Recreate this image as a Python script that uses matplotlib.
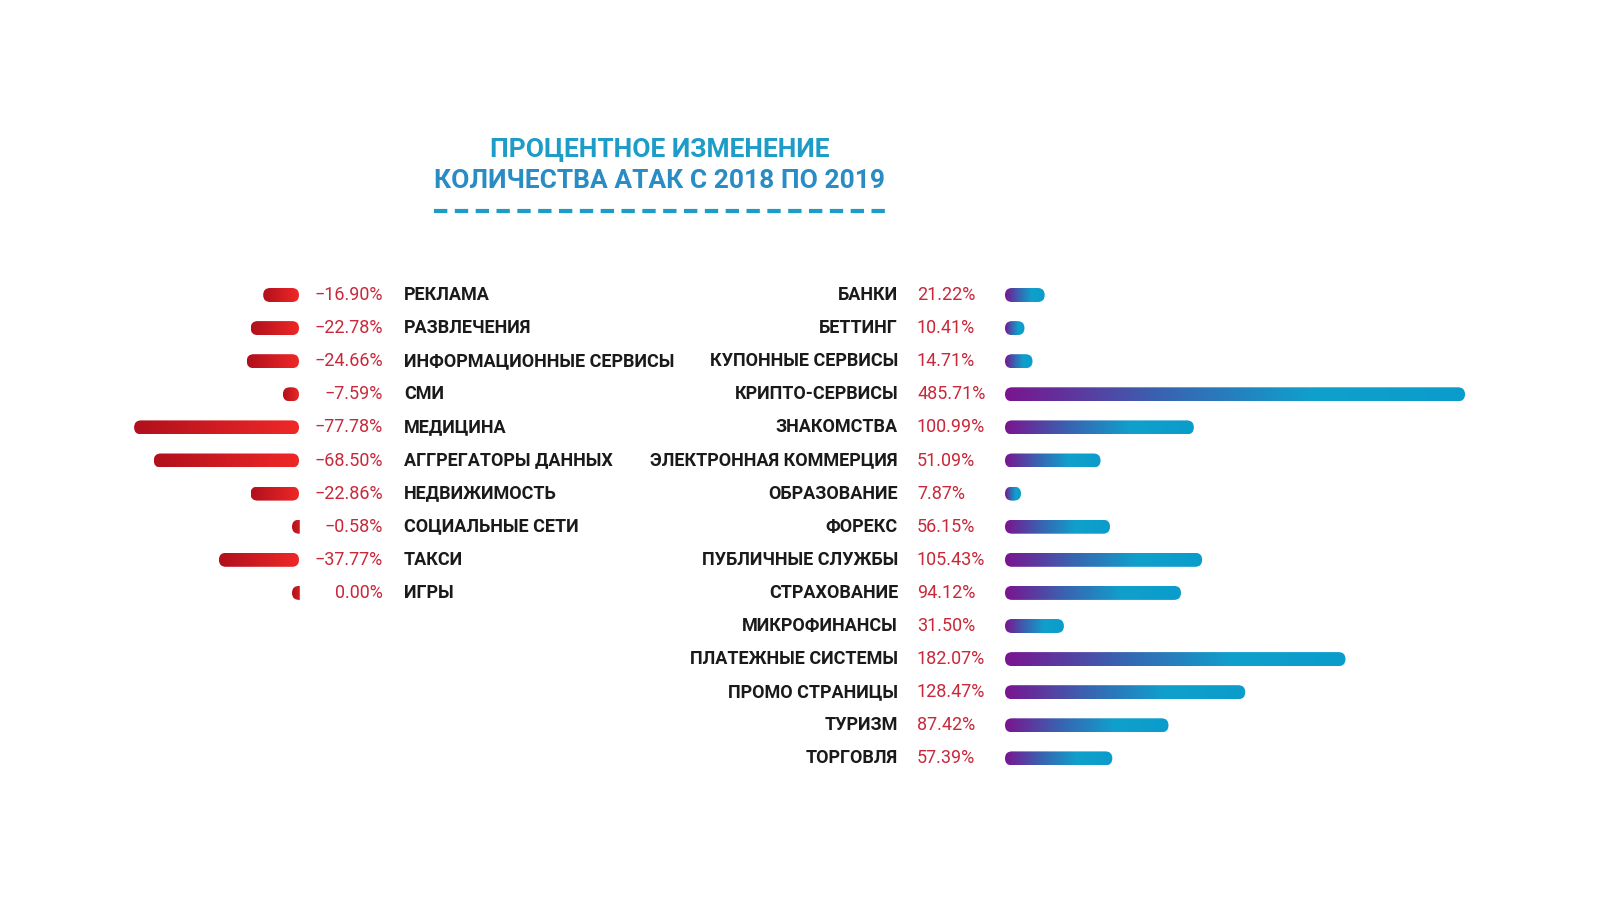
import numpy as np
import matplotlib
matplotlib.use("Agg")
import matplotlib.pyplot as plt
from matplotlib.patches import FancyBboxPatch
from matplotlib.colors import LinearSegmentedColormap

# data
left_cats = ["РЕКЛАМА", "РАЗВЛЕЧЕНИЯ", "ИНФОРМАЦИОННЫЕ СЕРВИСЫ", "СМИ", "МЕДИЦИНА",
             "АГГРЕГАТОРЫ ДАННЫХ", "НЕДВИЖИМОСТЬ", "СОЦИАЛЬНЫЕ СЕТИ", "ТАКСИ", "ИГРЫ"]
left_vals = [-16.90, -22.78, -24.66, -7.59, -77.78, -68.50, -22.86, -0.58, -37.77, 0.00]

right_cats = ["БАНКИ", "БЕТТИНГ", "КУПОННЫЕ СЕРВИСЫ", "КРИПТО-СЕРВИСЫ", "ЗНАКОМСТВА",
              "ЭЛЕКТРОННАЯ КОММЕРЦИЯ", "ОБРАЗОВАНИЕ", "ФОРЕКС", "ПУБЛИЧНЫЕ СЛУЖБЫ",
              "СТРАХОВАНИЕ", "МИКРОФИНАНСЫ", "ПЛАТЕЖНЫЕ СИСТЕМЫ", "ПРОМО СТРАНИЦЫ",
              "ТУРИЗМ", "ТОРГОВЛЯ"]
right_vals = [21.22, 10.41, 14.71, 485.71, 100.99, 51.09, 7.87, 56.15, 105.43,
              94.12, 31.50, 182.07, 128.47, 87.42, 57.39]

fig = plt.figure(figsize=(16, 9.09), dpi=100)
ax = fig.add_axes([0, 0, 1, 1])
ax.set_xlim(0, 1600)
ax.set_ylim(909, 0)
ax.axis("off")

red_cmap = LinearSegmentedColormap.from_list("r", ["#b0101c", "#f02828"])
blue_cmap = LinearSegmentedColormap.from_list("b", ["#7a1590", "#3a62b0", "#10a0cc", "#0a9ccb"])
grad = np.linspace(0, 1, 256).reshape(1, -1)

y0, dy, h = 295, 33.1, 14
pct_color = "#c8283a"
cat_font = dict(fontfamily="Roboto", fontweight="bold", fontsize=13, color="#1a1a1a", va="center")
pct_font = dict(fontfamily="Roboto", fontsize=13, color=pct_color, va="center")


def gbar(x0, x1, y, cmap, clip=None):
    patch = FancyBboxPatch((x0, y - h / 2), x1 - x0, h,
                           boxstyle="round,pad=0,rounding_size=7",
                           facecolor="none", edgecolor="none")
    ax.add_patch(patch)
    im = ax.imshow(grad, cmap=cmap, extent=(x0, x1, y + h / 2, y - h / 2),
                   aspect="auto", interpolation="bicubic")
    im.set_clip_path(patch)
    if clip is not None:
        ax.add_patch(clip)
        clip.set_visible(False)


# left side
for i, (c, v) in enumerate(zip(left_cats, left_vals)):
    y = y0 + i * dy
    L = abs(v) * 2.12
    x0 = 299 - max(L, 7)
    x1 = max(299, x0 + 14)
    gbar(x0, x1, y, red_cmap)
    ax.text(383, y, f"{v:.2f}%".replace("-", "\u2212"), ha="right", **pct_font)
    ax.text(404, y, c, ha="left", **cat_font)
# cover part of tiny bars right of anchor
ax.fill_between([299.5, 312], 280, 620, color="white", zorder=5)

# right side
for i, (c, v) in enumerate(zip(right_cats, right_vals)):
    y = y0 + i * dy
    L = max(min(v, 246) * 1.87, 16)
    gbar(1005, 1005 + L, y, blue_cmap)
    ax.text(898, y, c, ha="right", **cat_font)
    ax.text(917, y, f"{v:.2f}%", ha="left", **pct_font)

ax.text(660, 150, "ПРОЦЕНТНОЕ ИЗМЕНЕНИЕ", ha="center", va="center",
        fontfamily="Roboto", fontweight="bold", fontsize=19, color="#1d9cc8")
ax.text(660, 181, "КОЛИЧЕСТВА АТАК С 2018 ПО 2019", ha="center", va="center",
        fontfamily="Roboto", fontweight="bold", fontsize=19, color="#2a8cc4")
ax.plot([434, 886], [211, 211], color="#1d9cc8", lw=3, dashes=(3.2, 1.8))

fig.savefig("out.png", dpi=100, facecolor="white")
